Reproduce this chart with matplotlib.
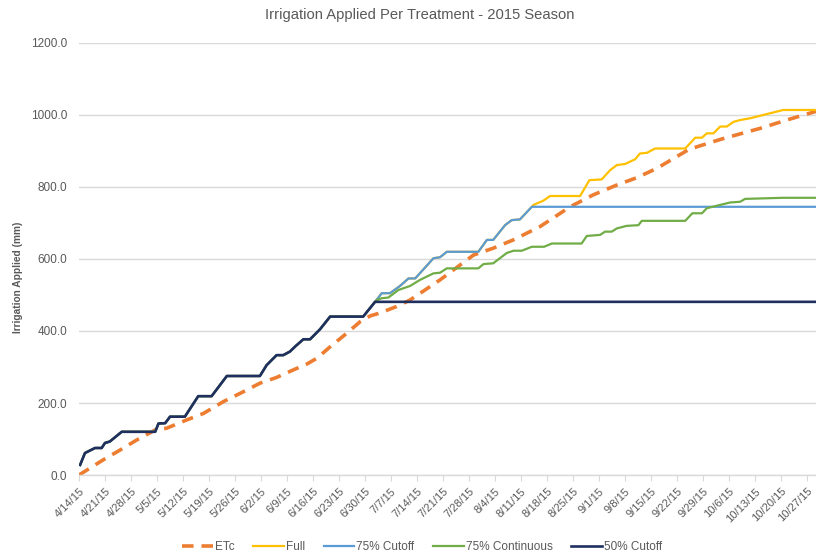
import matplotlib
matplotlib.use("Agg")
import matplotlib.pyplot as plt

plt.rcParams['font.family'] = ['Liberation Sans', 'DejaVu Sans']

# x values: days since 4/14/15
tick_labels = ["4/14/15", "4/21/15", "4/28/15", "5/5/15", "5/12/15", "5/19/15", "5/26/15",
               "6/2/15", "6/9/15", "6/16/15", "6/23/15", "6/30/15", "7/7/15", "7/14/15",
               "7/21/15", "7/28/15", "8/4/15", "8/11/15", "8/18/15", "8/25/15", "9/1/15",
               "9/8/15", "9/15/15", "9/22/15", "9/29/15", "10/6/15", "10/13/15", "10/20/15",
               "10/27/15"]
tick_days = [7 * i for i in range(len(tick_labels))]
season_end_day = 198.4

# ETc (crop water use)
etc_days = [0, 6.5, 11, 15.5, 20.5, 23.6, 29, 33.5, 38.9, 44.2, 48.7, 53.2, 57.7, 61.3, 64,
            67.6, 72.1, 75.7, 78.4, 81, 85.5, 89.1, 97.2, 106.2, 111.5, 116.9, 124.1, 132.2,
            138.4, 144.9, 150.2, 155.6, 160.5, 164.3, 172.6, 178.8, 183.4, 190.5, 198.4]
etc_vals = [0, 42, 69, 97, 125, 130, 153, 171, 204, 231, 255, 271, 292, 308, 324,
            356, 394, 426, 442, 450, 468, 486, 542, 611, 630, 653, 690, 745,
            778, 806, 826, 852, 882, 905, 932, 950, 963, 986, 1010]

# Common irrigation trace (all treatments) until the cutoff
common_days = [0.3, 1.6, 4.3, 6.1, 7, 8.3, 11.5, 20.5, 21.4, 23.2, 24.5, 28.5, 32.1, 35.7,
               39.8, 48.7, 50.5, 53.2, 55, 56.8, 58.2, 60.4, 62.2, 64.9, 67.6, 76.5, 79.7]
common_vals = [28, 61, 75, 75, 89, 93, 120, 120, 143, 144, 162, 162, 219, 219,
               275, 275, 305, 333, 333, 343, 357, 377, 377, 405, 440, 440, 481]

# 50% Cutoff: flat after the common trace
cut50_days = [season_end_day]
cut50_vals = [481]

# 75% Cutoff after the 50% cutoff point
cut75_days = [81.5, 83.7, 86.4, 88.7, 90.5, 92.7, 95.4, 97.2, 99, 107.5, 109.8, 111.5,
              114.7, 116.5, 118.7, 121.9]
cut75_vals = [505, 505, 525, 546, 546, 571, 602, 605, 620, 620, 653, 653,
              694, 708, 710, 745]
cut75_end_val = 745

# Full irrigation after the 75% cutoff point
full_days = [122.3, 125, 126.8, 134.9, 137.4, 140.7, 143, 144.8, 147, 149.7, 151, 152.9,
             155.1, 163.2, 165.9, 167.7, 169, 170.8, 172.6, 174.4, 176.2, 178, 180.7,
             183.4, 186.1, 189.6, 198.4]
full_vals = [750, 762, 775, 775, 819, 821, 847, 861, 864, 877, 893, 895,
             907, 907, 937, 937, 949, 949, 968, 968, 981, 986, 991,
             998, 1005, 1014, 1014]

# 75% Continuous after the 50% cutoff point
cont_days = [80.2, 81.5, 83.3, 86, 89.1, 91.8, 95.4, 97.2, 99, 107.5, 108.9, 111.5, 115.2,
             117, 119.2, 121.9, 125.2, 127.3, 135.3, 136.7, 140.3, 141.6, 143.4, 144.8,
             147.4, 150.6, 151.5, 163.2, 165.1, 167.7, 169, 171.7, 175.3, 178, 179.3,
             189.6, 198.4]
cont_vals = [486, 491, 493, 514, 525, 542, 560, 562, 574, 574, 586, 588, 617,
             623, 623, 634, 634, 643, 643, 664, 667, 676, 676, 685,
             692, 694, 706, 706, 727, 727, 741, 748, 757, 759, 767,
             770, 770]

# assemble series
s50_x = common_days + cut50_days
s50_y = common_vals + cut50_vals
s75_x = common_days + cut75_days + [season_end_day]
s75_y = common_vals + cut75_vals + [cut75_end_val]
full_x = common_days + cut75_days + full_days
full_y = common_vals + cut75_vals + full_vals
cont_x = common_days + cont_days
cont_y = common_vals + cont_vals

fig = plt.figure(figsize=(8.16, 5.58), dpi=100)
ax = fig.add_axes([79 / 816, 1 - 475 / 558, 1 - 79 / 816, (475 - 43) / 558])

ax.plot(etc_days, etc_vals, color="#ED7D31", lw=2.6, dashes=(3.2, 2.2), label="ETc",
        solid_capstyle="butt", dash_capstyle="butt")
ax.plot(full_x, full_y, color="#FFC000", lw=1.6, label="Full")
ax.plot(s75_x, s75_y, color="#5B9BD5", lw=1.6, label="75% Cutoff")
ax.plot(cont_x, cont_y, color="#70AD47", lw=1.6, label="75% Continuous")
ax.plot(s50_x, s50_y, color="#1F2F5F", lw=1.9, label="50% Cutoff")

ax.set_xlim(0, season_end_day)
ax.set_ylim(0, 1200)
ax.set_yticks(range(0, 1201, 200))
ax.set_yticklabels([f"{v:.1f}" for v in range(0, 1201, 200)])
ax.set_xticks(tick_days)
ax.set_xticklabels(tick_labels, rotation=45, ha="right", rotation_mode="anchor")

ax.grid(axis="y", color="#D9D9D9", lw=1.0)
ax.set_axisbelow(True)
for s in ["top", "right", "left"]:
    ax.spines[s].set_visible(False)
ax.spines["bottom"].set_color("#D9D9D9")
ax.spines["bottom"].set_linewidth(1.0)
ax.tick_params(axis="y", length=0, pad=8.5, labelsize=8.5, labelcolor="#595959")
ax.tick_params(axis="x", length=4, color="#D9D9D9", pad=4, labelsize=8, labelcolor="#595959")

fig.text(18 / 816, 1 - 277 / 558, "Irrigation Applied (mm)", rotation=90, ha="center",
         va="center", fontsize=7.3, color="#595959", fontweight="bold")
fig.text(420 / 816, 1 - 15 / 558, "Irrigation Applied Per Treatment - 2015 Season",
         ha="center", va="center", fontsize=10.6, color="#595959")

fig.legend(loc="center", bbox_to_anchor=(422 / 816, 1 - 547 / 558), ncol=5, frameon=False,
           fontsize=8.5, handlelength=2.6, handletextpad=0.15, columnspacing=1.6,
           labelcolor="#595959")

fig.savefig("out.png", dpi=100)
